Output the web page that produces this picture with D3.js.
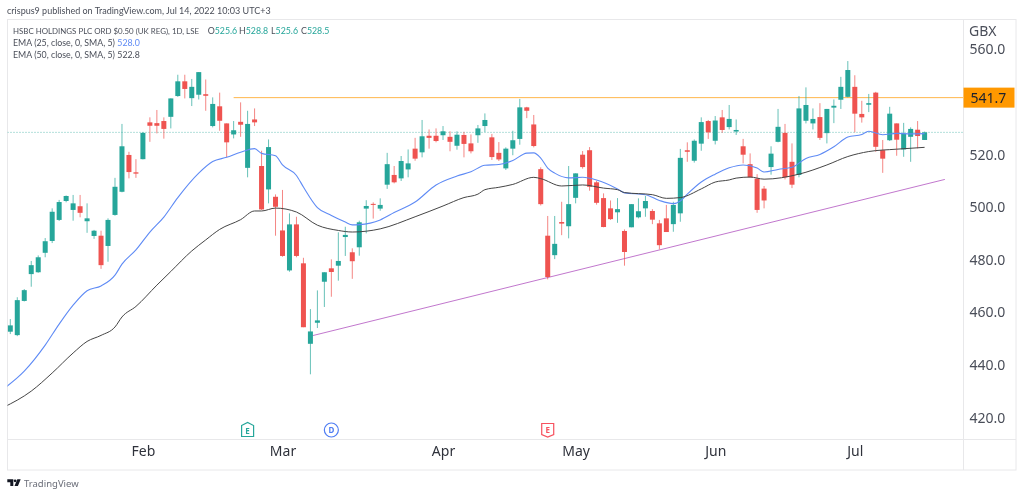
<!DOCTYPE html>
<html>
<head>
<meta charset="utf-8">
<script src="https://cdnjs.cloudflare.com/ajax/libs/d3/7.8.5/d3.min.js"></script>
<style>
	html, body { margin: 0; padding: 0; background: #fff; }
	svg { display: block; font-family: "Noto Sans", sans-serif; filter: blur(0.35px); }
	text { fill: #4a4e59; }
</style>
</head>
<body>
<svg id="chart" width="1024" height="495"></svg>
<script>
// daily candles
var opens = [
	452.7,451.4,464.4,474.6,475.3,482.7,487.2,495.2,502.4,499.0,
	500.4,494.7,489.1,489.2,485.3,497.1,505.9,519.9,513.3,518.3,
	532.3,532.0,532.8,534.4,542.3,547.9,541.5,542.8,543.0,530.9,
	538.4,531.9,527.7,532.5,515.0,533.4,515.7,506.8,504.0,491.2,
	476.0,493.5,478.7,448.1,456.1,471.7,476.8,477.8,488.7,482.9,
	484.8,499.5,501.3,499.5,508.6,512.3,511.0,514.4,522.3,520.9,
	527.2,527.2,527.4,526.8,523.4,527.5,524.3,527.4,530.9,526.6,
	520.7,514.8,522.3,526.0,538.0,531.5,514.5,489.2,481.8,494.4,
	492.8,503.6,520.0,521.7,509.5,503.5,499.6,498.1,491.0,492.4,
	496.2,499.6,498.6,493.9,495.8,493.6,497.7,521.7,517.7,524.2,
	532.8,525.3,534.2,530.5,528.8,523.2,516.4,510.9,507.1,515.3,
	524.9,528.3,517.3,512.3,532.9,531.9,534.3,528.2,537.9,540.9,
	542.0,545.8,535.5,539.0,543.6,521.7,525.5,531.9,522.0,526.8,
	529.5,525.6
];
var highs = [
	457.5,465.8,468.9,479.6,481.7,488.3,499.6,502.8,504.5,504.7,
	504.7,501.5,491.4,491.1,495.8,511.2,531.7,521.1,518.3,528.6,
	534.2,537.0,534.2,541.4,550.4,550.4,548.8,551.4,548.6,541.8,
	543.6,531.9,532.8,539.9,536.7,537.6,521.5,525.8,504.9,506.6,
	497.7,496.4,480.8,461.3,468.4,475.3,480.2,490.5,492.6,484.4,
	494.9,502.7,501.9,503.4,520.7,515.7,519.5,522.0,526.4,533.2,
	529.6,530.0,530.9,528.9,528.9,528.7,527.7,531.3,535.7,527.9,
	524.8,522.8,529.1,541.2,538.2,535.1,515.2,496.7,496.7,502.1,
	515.7,512.9,521.4,522.9,510.1,505.3,502.6,503.5,491.6,501.2,
	503.4,504.3,499.3,495.2,500.9,502.1,522.2,524.7,525.8,534.2,
	533.2,534.7,537.0,538.9,533.4,526.0,520.5,512.6,508.1,523.2,
	537.4,531.7,524.3,542.3,545.6,537.6,539.6,537.4,541.0,549.6,
	555.6,550.2,540.5,543.1,543.9,525.6,538.2,531.9,532.1,530.4,
	532.8,528.8
];
var lows = [
	451.8,451.0,464.2,469.8,475.1,481.0,486.4,494.8,501.9,494.9,
	496.2,490.3,488.0,476.6,479.3,496.8,505.7,511.0,511.2,518.2,
	524.9,528.1,526.1,530.0,542.0,541.4,538.5,541.0,536.7,530.4,
	529.1,519.0,526.2,526.8,511.4,530.9,499.0,501.5,489.2,481.2,
	475.5,481.0,454.4,436.5,454.1,462.1,466.0,472.1,481.5,472.8,
	481.6,490.1,495.7,498.7,507.0,509.1,510.0,511.4,517.7,519.0,
	522.3,524.7,525.6,521.3,521.9,519.0,520.5,524.5,528.6,518.0,
	517.6,514.2,519.8,523.8,533.9,522.8,500.7,472.6,480.3,489.4,
	488.2,501.5,514.7,506.3,501.0,492.4,495.2,494.1,477.8,492.4,
	495.8,496.4,493.6,484.0,490.6,490.7,494.5,517.3,517.0,521.5,
	526.0,523.9,528.3,529.6,527.5,516.7,511.4,497.9,499.6,512.4,
	524.7,510.6,507.3,511.4,531.9,529.6,525.6,524.3,532.0,537.4,
	541.8,528.5,532.2,536.2,521.1,513.1,525.2,519.6,519.2,517.3,
	522.4,525.6
];
var closes = [
	455.1,464.7,468.5,478.0,481.0,487.1,498.3,502.0,504.3,501.5,
	497.9,495.8,491.1,478.0,495.2,507.8,523.2,513.4,512.8,528.3,
	531.0,531.0,529.8,541.4,547.9,545.0,545.8,551.4,542.4,539.3,
	532.9,524.7,529.3,531.4,531.7,532.3,499.2,522.9,500.2,481.5,
	493.5,481.5,454.4,452.8,457.0,475.3,475.4,479.6,489.5,479.5,
	494.3,500.5,501.0,500.9,516.4,509.5,517.6,516.7,518.5,527.0,
	526.4,525.2,528.9,524.9,527.6,524.1,521.3,530.0,533.2,519.1,
	518.2,522.3,525.5,538.0,536.7,523.3,501.2,473.5,486.1,493.8,
	501.2,512.9,515.3,507.8,501.7,492.5,495.5,499.3,483.0,501.2,
	498.5,502.4,495.3,485.6,490.6,500.9,518.8,521.1,525.3,532.4,
	528.5,533.0,529.4,533.6,529.4,520.0,511.4,499.0,502.6,520.4,
	530.6,511.4,508.6,537.6,538.9,533.6,526.4,537.4,538.6,545.8,
	552.2,535.6,534.2,539.6,523.0,518.5,535.6,525.7,527.9,529.8,
	527.1,528.5
];

// moving averages, sampled at the bars where they could be read
var ema25Bars = [-1,2,5,7,9,11,13,15,16,18,20,22,24,27,29,31,33,35,36,38,39,41,42,44,46,48,49,50,53,55,58,61,64,66,68,70,72,74,75,76,77,78,80,82,84,87,88,91,93,95,96,97,99,101,103,105,107,108,110,112,114,116,118,120,122,123,125,127,129,131];
var ema25 = [430.9,437.7,447.6,455.6,462.8,468.3,470.1,474.2,478.4,483.8,490.6,496.3,503.7,513.0,517.4,519.0,520.9,522.3,520.5,519.6,516.1,512.1,507.7,499.9,496.9,494.4,493.3,493.4,495.2,498.0,502.0,508.5,511.9,513.5,516.0,516.3,517.8,520.6,520.7,518.7,514.9,513.0,511.2,511.4,510.4,507.0,505.5,504.8,502.6,501.4,502.4,505.0,509.6,512.6,515.0,516.1,514.9,513.4,514.4,515.2,518.6,520.1,523.0,526.7,527.7,528.9,527.6,528.1,527.9,528.0];
var ema50Bars = [-1,3,6,9,11,13,15,16,18,21,23,26,28,30,33,35,36,38,41,44,47,49,53,58,62,65,67,68,70,72,75,76,79,82,85,87,88,92,94,96,99,101,103,104,106,108,113,117,120,123,127,131];
var ema50 = [423.9,430.1,437.0,444.6,449.0,451.3,454.5,458.3,462.3,470.4,475.6,483.4,487.6,491.6,495.3,498.6,498.6,499.7,498.2,493.2,491.2,490.6,491.8,496.4,500.5,503.7,505.0,506.7,507.6,508.7,511.4,510.9,508.1,508.5,507.3,506.7,505.6,504.8,503.4,503.7,507.0,509.6,510.4,511.1,511.5,510.7,512.6,516.1,519.3,521.2,522.1,522.8];

// drawn lines
var trendBars = [43.3, 133.9];
var trendValues = [451.2, 510.6];
var levelBars = [32, 137.5];
var levelValue = 541.7;
var lastValue = 528.5;

var shownTicks = [420, 440, 460, 480, 500, 520, 560];
var monthBars = [19, 39, 62, 81, 101, 121];
var monthNames = ["Feb", "Mar", "Apr", "May", "Jun", "Jul"];

var svg = d3.select("#chart");

var xScale = d3.scaleLinear().domain([0, 131]).range([10.3, 924.6]);
var yScale = d3.scaleLinear().domain([420, 560]).range([417.7, 49.5]);

var up = "#26a69a", down = "#ef5350", bw = 5;
var left = 7.5, right = 1016, top_ = 19.5, bottom = 470, paneR = 963.5, paneB = 439.5;

svg.append("defs").append("clipPath").attr("id", "pane")
	.append("rect").attr("x", left).attr("y", top_).attr("width", paneR - left).attr("height", paneB - top_);

// frame
svg.append("rect").attr("x", left).attr("y", top_).attr("width", right - left).attr("height", bottom - top_)
	.attr("fill", "none").attr("stroke", "#e8e8ea");

var plot = svg.append("g").attr("clip-path", "url(#pane)");

// last price line
plot.append("line")
	.attr("x1", left).attr("x2", paneR)
	.attr("y1", yScale(lastValue)).attr("y2", yScale(lastValue))
	.attr("stroke", up).attr("stroke-opacity", 0.7).attr("stroke-dasharray", "1 2");

// resistance line
plot.append("line")
	.attr("x1", xScale(levelBars[0])).attr("x2", xScale(levelBars[1]))
	.attr("y1", yScale(levelValue)).attr("y2", yScale(levelValue))
	.attr("stroke", "#ff9800").attr("stroke-opacity", 0.7);

// trend line
plot.append("line")
	.attr("x1", xScale(trendBars[0])).attr("x2", xScale(trendBars[1]))
	.attr("y1", yScale(trendValues[0])).attr("y2", yScale(trendValues[1]))
	.attr("stroke", "#ba68c8").attr("stroke-opacity", 0.9);

var candles = d3.range(opens.length);

plot.selectAll(".wick")
	.data(candles)
	.join("line")
	.attr("class", "wick")
	.attr("x1", (i) => xScale(i)).attr("x2", (i) => xScale(i))
	.attr("y1", (i) => yScale(highs[i])).attr("y2", (i) => yScale(lows[i]))
	.attr("stroke", (i) => closes[i] >= opens[i] ? up : down)
	.attr("stroke-opacity", 0.7);

plot.selectAll(".body")
	.data(candles)
	.join("rect")
	.attr("class", "body")
	.attr("x", (i) => xScale(i) - bw / 2)
	.attr("width", bw)
	.attr("y", (i) => yScale(Math.max(opens[i], closes[i])))
	.attr("height", (i) => Math.max(1, Math.abs(yScale(opens[i]) - yScale(closes[i]))))
	.attr("fill", (i) => closes[i] >= opens[i] ? up : down);

var emaLine = (bars) => d3.line()
	.x((d, i) => xScale(bars[i]))
	.y((d) => yScale(d))
	.curve(d3.curveMonotoneX);

plot.append("path").attr("d", emaLine(ema25Bars)(ema25))
	.attr("fill", "none").attr("stroke", "#5f8bf5").attr("stroke-width", 1.1);
plot.append("path").attr("d", emaLine(ema50Bars)(ema50))
	.attr("fill", "none").attr("stroke", "#454545").attr("stroke-width", 1);

// axes
var xAxis = d3.axisBottom(xScale)
	.tickValues(monthBars)
	.tickSize(0)
	.tickPadding(7)
	.tickFormat((d, i) => monthNames[i]);
var xG = svg.append("g").attr("transform", `translate(0, ${paneB})`).call(xAxis);
xG.select(".domain").attr("d", `M${left},0H${right}`).attr("stroke", "#e8e8ea");
xG.selectAll("text").style("font-size", "14px").style("fill", "#2f323b").style("font-family", "'Noto Sans'");

var yAxis = d3.axisRight(yScale)
	.tickValues(shownTicks)
	.tickSize(0)
	.tickPadding(6)
	.tickFormat(d3.format(".1f"));
var yG = svg.append("g").attr("transform", `translate(${paneR}, 0)`).call(yAxis);
yG.select(".domain").attr("d", `M0,${top_}V${bottom}`).attr("stroke", "#e8e8ea");
yG.selectAll("text").style("font-size", "14px").style("fill", "#4a4e59").style("font-family", "'Noto Sans'");

svg.append("text").text("GBX").attr("x", 969).attr("y", 36).style("font-size", "14px");

// price tag of the level
var tagY = yScale(levelValue);
svg.append("rect").attr("x", paneR).attr("y", tagY - 10).attr("width", 51).attr("height", 20).attr("fill", "#ff9800");
svg.append("text").text(d3.format(".1f")(levelValue))
	.attr("x", 988.5).attr("y", tagY + 5).attr("text-anchor", "middle")
	.style("font-size", "14px").style("fill", "#1e222d");

// header and legend
svg.append("text").text("crispus9 published on TradingView.com, Jul 14, 2022 10:03 UTC+3")
	.attr("x", 7).attr("y", 14).style("font-size", "9px").style("font-family", "Lato");

var legend = svg.append("g").style("font-size", "8.8px").style("font-family", "Lato");
legend.append("text").text("HSBC HOLDINGS PLC ORD $0.50 (UK REG), 1D, LSE").attr("x", 13).attr("y", 33.5)
	.style("font-size", "7.9px");
legend.append("text").text("EMA (25, close, 0, SMA, 5)").attr("x", 13).attr("y", 45.5);
legend.append("text").text("EMA (50, close, 0, SMA, 5)").attr("x", 13).attr("y", 57.5);
legend.append("text").text("528.0").attr("x", 117.3).attr("y", 45.5).style("fill", "#5f8bf5");
legend.append("text").text("522.8").attr("x", 117.3).attr("y", 57.5);

var ohlcKeys = ["O", "H", "L", "C"];
var ohlcVals = ["525.6", "528.8", "525.6", "528.5"];
var ohlcX = [207.7, 239, 271, 301];
ohlcKeys.forEach((k, i) => {
	var t = legend.append("text").attr("x", ohlcX[i]).attr("y", 33.5);
	t.append("tspan").text(k);
	t.append("tspan").text(ohlcVals[i]).style("fill", up);
});

// event markers
var markY = 430;
var greenE = svg.append("g").attr("transform", `translate(${xScale(34)}, ${markY})`);
greenE.append("path").attr("d", "M-6,-4.5L0,-7.5L6,-4.5V6.5H-6Z").attr("fill", "#fff").attr("stroke", up).attr("stroke-width", 1.2);
greenE.append("text").text("E").attr("text-anchor", "middle").attr("y", 3.5).style("font-size", "8px").style("font-weight", "bold").style("fill", up);

var blueD = svg.append("g").attr("transform", `translate(${xScale(46)}, ${markY})`);
blueD.append("circle").attr("r", 7).attr("fill", "#fff").attr("stroke", "#4f7df3").attr("stroke-width", 1.2);
blueD.append("text").text("D").attr("text-anchor", "middle").attr("y", 3).style("font-size", "8px").style("font-weight", "bold").style("fill", "#4f7df3");

var redE = svg.append("g").attr("transform", `translate(${xScale(77)}, ${markY})`);
redE.append("path").attr("d", "M-6,-6.5H6V4.5L0,7L-6,4.5Z").attr("fill", "#fff").attr("stroke", "#f7525f").attr("stroke-width", 1.2);
redE.append("text").text("E").attr("text-anchor", "middle").attr("y", 2.5).style("font-size", "8px").style("font-weight", "bold").style("fill", "#f7525f");

// TradingView logo
var logo = svg.append("g").attr("transform", "translate(7.3, 479.3)").attr("fill", "#131722");
logo.append("path").attr("d", "M0,0H6V6.8H3V3H0Z");
logo.append("circle").attr("cx", 7.8).attr("cy", 1.5).attr("r", 1.4);
logo.append("path").attr("d", "M10,0H13.4L10.6,6.8H7.2Z");
svg.append("text").text("TradingView").attr("x", 24).attr("y", 486.5)
	.style("font-size", "9.5px").style("fill", "#6a6d78");
</script>
</body>
</html>
